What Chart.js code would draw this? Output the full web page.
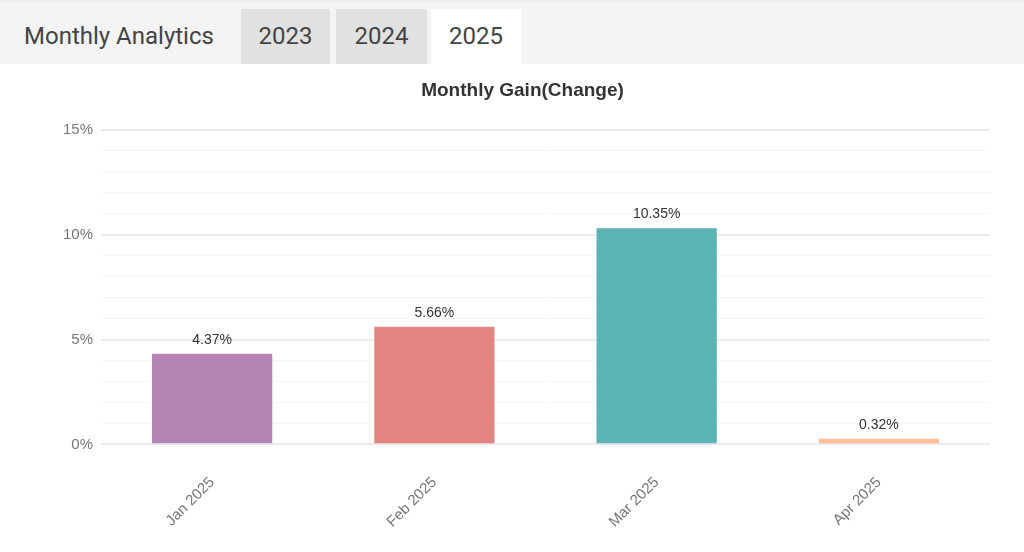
<!DOCTYPE html>
<html>
<head>
<meta charset="utf-8">
<script src="https://cdn.jsdelivr.net/npm/chart.js@4.4.1/dist/chart.umd.min.js"></script>
<style>
    html, body { margin: 0; padding: 0; background: #fff; width: 1024px; height: 552px; overflow: hidden; }
    .topbar { position: absolute; left: 0; top: 0; width: 1024px; height: 64px; background: #f4f4f4; border-top: 2px solid #ececec; box-sizing: border-box; }
    .brand { position: absolute; left: 24px; top: 20px; font-family: Roboto, sans-serif; font-size: 24px; color: #444; }
    .tab { position: absolute; top: 7px; height: 55px; font-family: Roboto, sans-serif; font-size: 24px; color: #444; background: #e1e1e1; text-align: center; line-height: 55px; }
    .tab.active { background: #fff; }
    .chart-wrap { position: absolute; left: 0; top: 64px; width: 1024px; height: 488px; }
</style>
</head>
<body>
<div class="topbar">
    <div class="brand">Monthly Analytics</div>
    <div class="tab" style="left:241px;width:89px">2023</div>
    <div class="tab" style="left:336px;width:91px">2024</div>
    <div class="tab active" style="left:431px;width:90px">2025</div>
</div>
<div class="chart-wrap"><canvas id="gainChart"></canvas></div>
<script>
// Chart data
const months = ['Jan 2025', 'Feb 2025', 'Mar 2025', 'Apr 2025'];
const gains = [4.37, 5.66, 10.35, 0.32];
const barColors = ['#b584b3', '#e28580', '#5bb3b3', '#ffbf98'];
const yTickLabels = [0, 5, 10, 15];

// Draw value labels above each bar
const valueLabels = {
    id: 'valueLabels',
    afterDatasetsDraw(chart) {
        const ctx = chart.ctx;
        const meta = chart.getDatasetMeta(0);
        ctx.save();
        ctx.font = '14px "Liberation Sans", Arial, sans-serif';
        ctx.fillStyle = '#333';
        ctx.textAlign = 'center';
        ctx.textBaseline = 'bottom';
        meta.data.forEach(function(bar, i) {
            ctx.fillText(gains[i].toFixed(2) + '%', bar.x, bar.y - 6);
        });
        ctx.restore();
    }
};

const ctx = document.getElementById('gainChart').getContext('2d');
const gainChart = new Chart(ctx, {
    type: 'bar',
    data: {
        labels: months,
        datasets: [{
            data: gains,
            backgroundColor: barColors,
            borderColor: 'rgba(255, 255, 255, 0.35)',
            borderWidth: 1,
            categoryPercentage: 1,
            barPercentage: 0.55
        }]
    },
    options: {
        responsive: true,
        maintainAspectRatio: false,
        animation: false,
        layout: { padding: { left: 55, right: 34, top: 4, bottom: 0 } },
        scales: {
            y: {
                min: 0,
                max: 15,
                ticks: {
                    stepSize: 1,
                    autoSkip: false,
                    color: '#777',
                    padding: 8,
                    font: { family: '"Liberation Sans", Arial, sans-serif', size: 15 },
                    callback: function(v) {
                        return yTickLabels.includes(v) ? v + '%' : '';
                    }
                },
                border: { display: false },
                grid: {
                    drawTicks: false,
                    color: function(c) {
                        return c.tick && c.tick.value % 5 === 0 ? '#ebebeb' : '#f6f6f6';
                    },
                    lineWidth: function(c) {
                        return c.tick && c.tick.value % 5 === 0 ? 2 : 1;
                    }
                }
            },
            x: {
                ticks: {
                    color: '#777',
                    minRotation: 45,
                    maxRotation: 45,
                    padding: 21,
                    font: { family: '"Liberation Sans", Arial, sans-serif', size: 15 }
                },
                border: { display: false },
                grid: { display: false }
            }
        },
        plugins: {
            legend: { display: false },
            tooltip: { enabled: false },
            title: {
                display: true,
                text: 'Monthly Gain(Change)',
                color: '#333',
                font: { family: '"Liberation Sans", Arial, sans-serif', size: 19, weight: 'bold' },
                padding: { top: 11, bottom: 28 }
            }
        }
    },
    plugins: [valueLabels]
});
</script>
</body>
</html>
